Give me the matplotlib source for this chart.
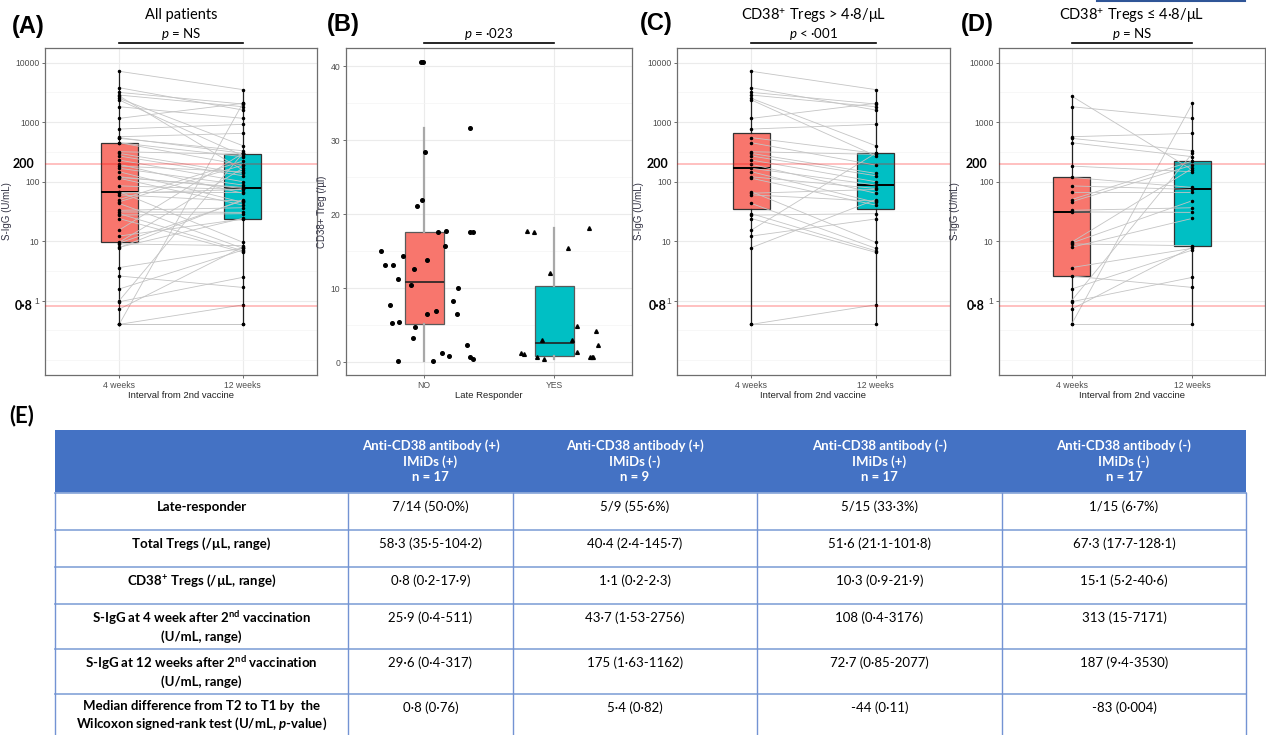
import numpy as np
import matplotlib
matplotlib.use('Agg')
import matplotlib.pyplot as plt
from matplotlib import cbook
from matplotlib.ticker import FixedLocator, NullFormatter
from matplotlib.patches import Rectangle

plt.rcParams['font.family'] = ['Liberation Sans', 'DejaVu Sans']
plt.rcParams['mathtext.fontset'] = 'custom'
plt.rcParams['mathtext.rm'] = 'Lato'
plt.rcParams['mathtext.it'] = 'Lato:italic'
plt.rcParams['mathtext.bf'] = 'Lato:bold'
if 'mathtext.bfit' in plt.rcParams:
    plt.rcParams['mathtext.bfit'] = 'Lato:italic:bold'
    BFIT_P = r'$\mathbfit{p}$'
else:
    BFIT_P = r'$p$'

# ---- data ----
weeks = ['4 weeks', '12 weeks']

# S-IgG (U/mL), paired per patient; CD38+ Tregs > 4.8/uL
hi_4wk = [7171, 3800, 3176, 2860, 2510, 2360, 1160, 767, 550, 452, 319, 299, 270, 231, 196,
          168, 147, 121, 114, 68, 64, 60, 43, 29, 27.5, 24, 15.4, 12.2, 7.8, 0.4, 0.4]
hi_12wk = [3530, 1600, 2020, 1820, 403, 273, 2077, 920, 300, 190, 288, 138, 126, 100, 64,
           88, 45, 77, 40.5, 9.6, 74, 47, 7.6, 6.9, 29, 6.5, 300, 23.6, 50, 0.85, 0.4]
# CD38+ Tregs <= 4.8/uL
lo_4wk = [2756, 1820, 570, 535, 452, 183, 118, 85, 68, 50, 46, 33, 31, 9.6, 9.3, 9.0, 7.9,
          3.6, 2.6, 1.57, 1.0, 0.96, 0.72, 0.4, 0.4]
lo_12wk = [157, 1162, 650, 331, 263, 147, 80, 74, 68, 222, 190, 36.5, 30.5, 168, 48, 8.4, 24.2,
           7.6, 1.67, 7.1, 300, 2.47, 8.0, 2077, 0.4]
all_4wk = hi_4wk + lo_4wk
all_12wk = hi_12wk + lo_12wk

# CD38+ Treg (/uL) by late responder, with the jitter seen in the figure
responder = ['NO', 'YES']
no_treg = [15.1, 13.2, 13.2, 11.3, 7.7, 5.3, 5.45, 0.2, 14.4, 12.6, 10.4, 4.8, 3.3, 21.1, 21.9,
           40.6, 40.6, 28.5, 13.8, 6.5, 0.2, 7.0, 17.6, 1.3, 15.8, 17.8, 0.85, 8.3, 6.5, 10.0,
           2.4, 31.7, 17.6, 0.8, 17.6, 0.5]
no_jit = [-0.33, -0.30, -0.24, -0.20, -0.26, -0.245, -0.19, -0.20, -0.16, -0.077, -0.097, -0.07,
          -0.087, -0.054, -0.015, -0.026, -0.005, 0.008, 0.02, 0.02, 0.066, 0.09, 0.11, 0.135,
          0.16, 0.166, 0.196, 0.224, 0.255, 0.263, 0.33, 0.35, 0.35, 0.35, 0.38, 0.38]
yes_treg = [1.3, 1.1, 17.8, 17.65, 0.75, 3.0, 0.5, 12.1, 15.4, 3.05, 4.95, 1.45, 18.2, 0.8, 0.8,
            0.8, 4.3, 2.3]
yes_jit = [-0.255, -0.227, -0.21, -0.153, -0.13, -0.09, -0.074, -0.03, 0.107, 0.135, 0.18, 0.18,
           0.27, 0.28, 0.29, 0.3, 0.32, 0.335]

# table (E)
col_heads = ['Anti-CD38 antibody (+)\nIMiDs (+)\nn = 17',
             'Anti-CD38 antibody (+)\nIMiDs (-)\nn = 9',
             'Anti-CD38 antibody (-)\nIMiDs (+)\nn = 17',
             'Anti-CD38 antibody (-)\nIMiDs (-)\nn = 17']
row_heads = ['Late-responder',
             'Total Tregs (/µL, range)',
             r'CD38$^{\mathbf{+}}$ Tregs (/µL, range)',
             'S-IgG at 4 week after 2$^{\\mathbf{nd}}$ vaccination\n(U/mL, range)',
             'S-IgG at 12 weeks after 2$^{\\mathbf{nd}}$ vaccination\n(U/mL, range)',
             'Median difference from T2 to T1 by  the\nWilcoxon signed-rank test (U/mL, '
             + BFIT_P + '-value)']
late_resp = ['7/14 (50·0%)', '5/9 (55·6%)', '5/15 (33·3%)', '1/15 (6·7%)']
total_tregs = ['58·3 (35·5-104·2)', '40·4 (2·4-145·7)', '51·6 (21·1-101·8)', '67·3 (17·7-128·1)']
cd38_tregs = ['0·8 (0·2-17·9)', '1·1 (0·2-2·3)', '10·3 (0·9-21·9)', '15·1 (5·2-40·6)']
igg_4wk = ['25·9 (0·4-511)', '43·7 (1·53-2756)', '108 (0·4-3176)', '313 (15-7171)']
igg_12wk = ['29·6 (0·4-317)', '175 (1·63-1162)', '72·7 (0·85-2077)', '187 (9·4-3530)']
med_diff = ['0·8 (0·76)', '5·4 (0·82)', '-44 (0·11)', '-83 (0·004)']
table_vals = [late_resp, total_tregs, cd38_tregs, igg_4wk, igg_12wk, med_diff]

# ---- styling ----
RED, CYAN = '#F8766D', '#00BFC4'
TICK_C = '#4D4D4D'
CAL = ['Lato', 'DejaVu Sans']
W, H = 1266, 735

fig = plt.figure(figsize=(W / 100, H / 100), dpi=100)


def px_axes(l, t, r, b):
    return fig.add_axes([l / W, 1 - b / H, (r - l) / W, (b - t) / H])


def base_style(ax):
    for s in ax.spines.values():
        s.set_color('#6E6E6E')
        s.set_linewidth(0.9)
    ax.set_xlim(0.4, 2.6)
    ax.tick_params(which='major', length=2.5, width=0.6, color='#555555',
                   labelsize=6.2, labelcolor=TICK_C, pad=1.5)
    ax.grid(which='major', color='#EBEBEB', lw=0.8)
    ax.grid(which='minor', axis='y', color='#F4F4F4', lw=0.5)
    ax.set_axisbelow(True)


def header(ax, title, ptxt, ty, py):
    if title:
        ax.text(0.5, ty, title, transform=ax.transAxes, ha='center', va='center',
                fontsize=10.5, family=CAL)
    tr = ax.get_xaxis_transform()
    ax.plot([1, 2], [1.015, 1.015], transform=tr, color='black', lw=1.2, clip_on=False)
    ax.text(1.5, py, ptxt, transform=tr, ha='center', va='center', fontsize=9.5, family=CAL)


def paired_panel(ax, wk4, wk12, title, ptxt, lab_dx):
    base_style(ax)
    ax.set_yscale('log')
    stats = cbook.boxplot_stats([np.log10(wk4), np.log10(wk12)], whis=(0, 100))
    for st in stats:
        for k in ('med', 'q1', 'q3', 'whislo', 'whishi', 'mean', 'cilo', 'cihi'):
            st[k] = 10 ** st[k]
        st['fliers'] = 10 ** np.asarray(st['fliers'])
    bp = ax.bxp(stats, positions=[1, 2], widths=0.3, patch_artist=True, showfliers=False,
                showcaps=False,
                boxprops=dict(edgecolor='#333333', lw=0.9),
                whiskerprops=dict(color='#222222', lw=0.9),
                medianprops=dict(color='black', lw=1.4))
    for patch, c in zip(bp['boxes'], [RED, CYAN]):
        patch.set_facecolor(c)
    n = len(wk4)
    ax.plot(np.vstack([np.ones(n), 2 * np.ones(n)]), np.vstack([wk4, wk12]),
            color='#C4C4C4', lw=0.6, zorder=3)
    ax.plot(np.ones(n), wk4, 'o', ms=1.5, color='black', zorder=4)
    ax.plot(2 * np.ones(n), wk12, 'o', ms=1.5, color='black', zorder=4)
    for v in (200, 0.8):
        ax.axhline(v, color='red', alpha=0.25, lw=1.4, zorder=5)
    ax.set_ylim(10 ** -1.249, 10 ** 4.247)
    ax.set_yticks([1, 10, 100, 1000, 10000], ['1', '10', '100', '1000', '10000'])
    ax.yaxis.set_minor_locator(FixedLocator([0.1, 10 ** -0.5, 10 ** 0.5, 10 ** 1.5,
                                             10 ** 2.5, 10 ** 3.5]))
    ax.yaxis.set_minor_formatter(NullFormatter())
    ax.tick_params(which='minor', length=0)
    ax.set_xticks([1, 2], weeks)
    ax.set_xlabel('Interval from 2nd vaccine', fontsize=6.8, color='#222222', labelpad=1)
    ax.set_ylabel('S-IgG (U/mL)', fontsize=7, color='#333344', labelpad=2)
    tr = matplotlib.transforms.blended_transform_factory(ax.transAxes, ax.transData)
    for v, s in ((200, '200'), (0.8, '0·8')):
        ax.text(lab_dx, v, s, transform=tr, ha='center', va='center', fontsize=9,
                fontweight='bold', family=CAL)
    header(ax, title, ptxt, 1.10, 1.042)


# (A) all patients
axA = px_axes(45, 48, 317, 375)
paired_panel(axA, all_4wk, all_12wk, 'All patients', '$p$ = NS', -0.079)
axA.yaxis.set_label_coords(-33 / 272, 0.5)

# (B) CD38+ Treg by late responder
axB = px_axes(346, 48, 632, 375)
base_style(axB)
bpB = axB.boxplot([no_treg, yes_treg], positions=[1, 2], widths=0.3, patch_artist=True,
                  showfliers=False, showcaps=False,
                  boxprops=dict(edgecolor='#5A5A5A', lw=0.9),
                  whiskerprops=dict(color='#A8A8A8', lw=1.6),
                  medianprops=dict(color='#222222', lw=1.2))
for patch, c in zip(bpB['boxes'], [RED, CYAN]):
    patch.set_facecolor(c)
axB.plot(1 + np.array(no_jit), no_treg, 'o', ms=2.6, color='black', zorder=4)
axB.plot(2 + np.array(yes_jit), yes_treg, '^', ms=2.7, color='black', zorder=4)
axB.set_ylim(-1.7, 42.5)
axB.set_yticks([0, 10, 20, 30, 40])
axB.yaxis.set_minor_locator(FixedLocator([5, 15, 25, 35]))
axB.tick_params(which='minor', length=0)
axB.set_xticks([1, 2], responder)
axB.set_xlabel('Late Responder', fontsize=6.8, color='#222222', labelpad=1)
axB.set_ylabel('CD38+ Treg (/µl)', fontsize=7, color='#333344', labelpad=2)
axB.yaxis.set_label_coords(-19 / 286, 0.5)
header(axB, None, '$p$ = ·023', 1.10, 1.042)

# (C) high CD38+ Tregs
axC = px_axes(677, 48, 950, 375)
paired_panel(axC, hi_4wk, hi_12wk, 'CD38$^{+}$ Tregs > 4·8/μL', '$p$ < ·001', -0.072)
axC.yaxis.set_label_coords(-33 / 273, 0.5)

# (D) low CD38+ Tregs
axD = px_axes(999, 48, 1265, 375)
paired_panel(axD, lo_4wk, lo_12wk, 'CD38$^{+}$ Tregs ≤ 4·8/μL', '$p$ = NS', -0.086)
axD.yaxis.set_label_coords(-39 / 266, 0.5)

# ---- overlay in pixel units: panel letters and table (E) ----
tab = fig.add_axes([0, 0, 1, 1], zorder=-1)
tab.set_xlim(0, W)
tab.set_ylim(H, 0)
tab.axis('off')

for lab, x, y in (('(A)', 28, 26), ('(B)', 343, 24), ('(C)', 656, 23), ('(D)', 977, 24)):
    tab.text(x, y, lab, ha='center', va='center', fontsize=17, fontweight='bold')
tab.text(22, 416, '(E)', ha='center', va='center', fontsize=16, fontweight='bold', family=CAL)
tab.plot([1097, 1245], [1, 1], color='#2F5597', lw=1.5)

col_edges = [55, 348, 513, 757, 1002, 1246]
row_edges = [430, 493, 530, 567, 604, 649, 694, 760]
tab.add_patch(Rectangle((col_edges[0], row_edges[0]), col_edges[-1] - col_edges[0],
                        row_edges[1] - row_edges[0], color='#4472C4', lw=0))
for y in row_edges[1:-1]:
    tab.plot([col_edges[0], col_edges[-1]], [y, y], color='#8EAADB', lw=1.3)
for x in col_edges:
    tab.plot([x, x], [row_edges[1], row_edges[-1]], color='#7393D3', lw=1.0)

hy = (row_edges[0] + row_edges[1]) / 2
for j, txt in enumerate(col_heads):
    cx = (col_edges[j + 1] + col_edges[j + 2]) / 2
    tab.text(cx, hy, txt, ha='center', va='center', color='white', fontweight='bold',
             fontsize=9.5, family=CAL, linespacing=1.3)

for i, (rh, vals) in enumerate(zip(row_heads, table_vals)):
    top = row_edges[i + 1]
    nl = rh.count('\n')
    tab.text((col_edges[0] + col_edges[1]) / 2, top + 14 + 8 * nl, rh, ha='center',
             va='center', fontweight='bold', fontsize=9.5, family=CAL, linespacing=1.3)
    for j, v in enumerate(vals):
        cx = (col_edges[j + 1] + col_edges[j + 2]) / 2
        tab.text(cx, top + 14, v, ha='center', va='center', fontsize=9.5, family=CAL)

fig.savefig('out.png', dpi=100)
